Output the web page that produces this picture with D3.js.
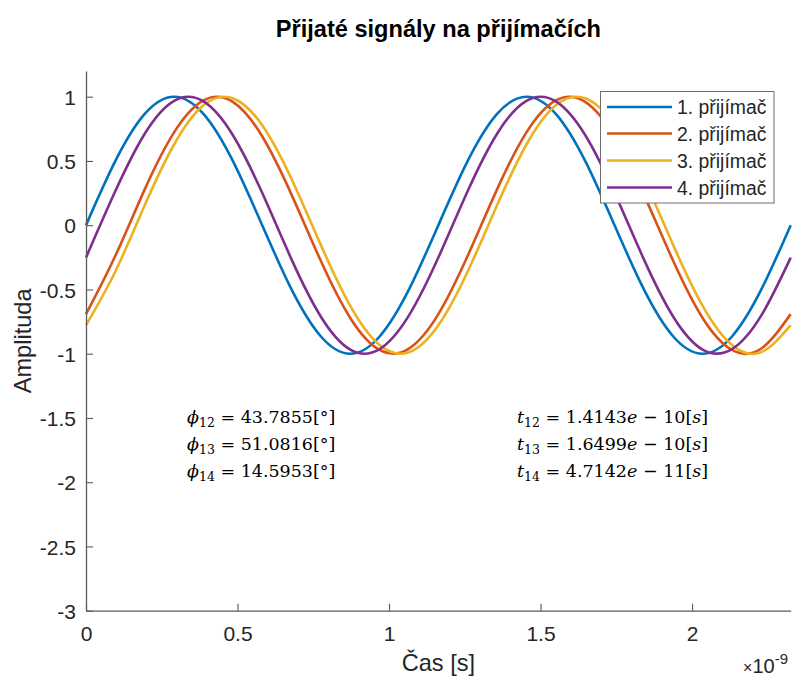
<!DOCTYPE html>
<html>
<head>
<meta charset="utf-8">
<script src="https://cdn.jsdelivr.net/npm/d3@7"></script>
<style>
  html, body { margin: 0; padding: 0; background: #fff; }
  svg { display: block; }
</style>
</head>
<body>
<svg id="chart" width="792" height="678"></svg>
<script>
// ---- Data (time in units of 1e-9 s) ----
const timeNs = [0, 0.0969, 0.1938, 0.2907, 0.3876, 0.4845, 0.5814, 0.6783, 0.7752, 0.8721,
  0.9690, 1.0659, 1.1628, 1.2597, 1.3566, 1.4535, 1.5504, 1.6473, 1.7442, 1.8411,
  1.9380, 2.0349, 2.1318, 2.2287, 2.3256];
const receiver1 = [0, 0.5, 0.866, 1, 0.866, 0.5, 0, -0.5, -0.866, -1, -0.866, -0.5,
  0, 0.5, 0.866, 1, 0.866, 0.5, 0, -0.5, -0.866, -1, -0.866, -0.5, 0];
const receiver2 = [-0.692, -0.238, 0.279, 0.722, 0.971, 0.960, 0.692, 0.238, -0.279, -0.722, -0.971, -0.960,
  -0.692, -0.238, 0.279, 0.722, 0.971, 0.960, 0.692, 0.238, -0.279, -0.722, -0.971, -0.960, -0.692];
const receiver3 = [-0.778, -0.360, 0.155, 0.628, 0.933, 0.988, 0.778, 0.360, -0.155, -0.628, -0.933, -0.988,
  -0.778, -0.360, 0.155, 0.628, 0.933, 0.988, 0.778, 0.360, -0.155, -0.628, -0.933, -0.988, -0.778];
const receiver4 = [-0.252, 0.266, 0.712, 0.968, 0.964, 0.702, 0.252, -0.266, -0.712, -0.968, -0.964, -0.702,
  -0.252, 0.266, 0.712, 0.968, 0.964, 0.702, 0.252, -0.266, -0.712, -0.968, -0.964, -0.702, -0.252];
const seriesNames = ["1. přijímač", "2. přijímač", "3. přijímač", "4. přijímač"];
const seriesColors = ["#0072BD", "#D95319", "#EDB120", "#7E2F8E"];
const xTicks = [0, 0.5, 1, 1.5, 2];
const yTicks = [1, 0.5, 0, -0.5, -1, -1.5, -2, -2.5, -3];
const xDomain = [0, 2.3256];
const yDomain = [-3, 1.2];
const phaseLabels = ["12", "13", "14"];
const phaseValues = ["43.7855", "51.0816", "14.5953"];
const delayMantissa = ["1.4143", "1.6499", "4.7142"];
const delayExponent = ["10", "10", "11"];
const titleText = "Přijaté signály na přijímačích";
const xLabel = "Čas [s]";
const yLabel = "Amplituda";

// ---- Layout ----
const svg = d3.select("#chart");
const pLeft = 86, pRight = 790.7, pTop = 71, pBottom = 610.7;
const x = d3.scaleLinear().domain(xDomain).range([pLeft, pRight]);
const y = d3.scaleLinear().domain(yDomain).range([pBottom, pTop]);
const axisColor = "#5a5a5a";
const textColor = "#262626";
const sans = "Arial, 'Liberation Sans', Helvetica, sans-serif";

// Lines
const allSeries = [receiver1, receiver2, receiver3, receiver4];
const line = d3.line()
  .x(d => x(d[0]))
  .y(d => y(d[1]))
  .curve(d3.curveNatural);
allSeries.forEach((vals, i) => {
  svg.append("path")
    .datum(timeNs.map((t, k) => [t, vals[k]]))
    .attr("fill", "none")
    .attr("stroke", seriesColors[i])
    .attr("stroke-width", 2.6)
    .attr("stroke-linejoin", "round")
    .attr("d", line);
});

// Axes
const xAxis = d3.axisBottom(x).tickValues(xTicks).tickSize(-7).tickPadding(12)
  .tickFormat(d3.format("~g")).tickSizeOuter(0);
const yAxis = d3.axisLeft(y).tickValues(yTicks).tickSize(-7).tickPadding(10)
  .tickFormat(d => d3.format("~g")(d).replace("−", "-")).tickSizeOuter(0);

const gx = svg.append("g").attr("transform", `translate(0,${pBottom})`).call(xAxis);
const gy = svg.append("g").attr("transform", `translate(${pLeft},0)`).call(yAxis);
[gx, gy].forEach(g => {
  g.select(".domain").attr("stroke", axisColor).attr("stroke-width", 1.3);
  g.selectAll(".tick line").attr("stroke", axisColor).attr("stroke-width", 1.1);
  g.selectAll(".tick text").attr("fill", textColor)
    .style("font-family", sans).style("font-size", "21px");
});
gx.selectAll(".tick text").attr("dy", null).attr("y", 30.5);
gy.selectAll(".tick text").attr("dy", "0.36em").attr("x", -10);

// Exponent label
const expT = svg.append("text")
  .attr("x", 788).attr("y", 672.5)
  .attr("text-anchor", "end")
  .attr("fill", textColor)
  .style("font-family", sans).style("font-size", "20px");
expT.append("tspan").style("font-size", "16px").text("×");
expT.append("tspan").text("10");
expT.append("tspan").attr("dy", -9).style("font-size", "15px").text("-9");

// Title
svg.append("text")
  .attr("x", (pLeft + pRight) / 2).attr("y", 37)
  .attr("text-anchor", "middle")
  .attr("fill", "#000")
  .style("font-family", sans).style("font-size", "23.6px").style("font-weight", "bold")
  .text(titleText);

// Axis labels
svg.append("text")
  .attr("x", (pLeft + pRight) / 2).attr("y", 671)
  .attr("text-anchor", "middle")
  .attr("fill", textColor)
  .style("font-family", sans).style("font-size", "23.6px")
  .text(xLabel);
svg.append("text")
  .attr("transform", `translate(31,${(pTop + pBottom) / 2}) rotate(-90)`)
  .attr("text-anchor", "middle")
  .attr("fill", textColor)
  .style("font-family", sans).style("font-size", "23.6px")
  .text(yLabel);

// Annotations (math text)
const serif = "'DejaVu Serif', 'Liberation Serif', serif";
const annBase = [423, 450, 477];
function mathLine(xPos, yPos, sym, sub, rest) {
  const t = svg.append("text")
    .attr("x", xPos).attr("y", yPos)
    .attr("fill", "#000")
    .style("font-family", serif).style("font-size", "17.5px")
    .style("white-space", "pre");
  t.append("tspan").style("font-style", "italic").text(sym);
  t.append("tspan").attr("dy", 4).style("font-size", "12.5px").text(sub);
  t.append("tspan").attr("dy", -4).text(" = ");
  rest.forEach(r => {
    const ts = t.append("tspan").text(r.text);
    if (r.italic) ts.style("font-style", "italic");
  });
  return t;
}
phaseLabels.forEach((lab, i) => {
  mathLine(187, annBase[i], "ϕ", lab, [
    { text: phaseValues[i] }, { text: "[°]" }
  ]);
  mathLine(517, annBase[i], "t", lab, [
    { text: delayMantissa[i] }, { text: "e", italic: true }, { text: " − " + delayExponent[i] + "[" },
    { text: "s", italic: true }, { text: "]" }
  ]);
});

// Legend
const lg = svg.append("g");
lg.append("rect")
  .attr("x", 600.5).attr("y", 91.5).attr("width", 173.5).attr("height", 111.5)
  .attr("fill", "#fff").attr("stroke", "#6e6e6e").attr("stroke-width", 1);
const rowY = [107, 133.5, 160.5, 187.5];
seriesNames.forEach((name, i) => {
  lg.append("line")
    .attr("x1", 607).attr("x2", 672)
    .attr("y1", rowY[i]).attr("y2", rowY[i])
    .attr("stroke", seriesColors[i]).attr("stroke-width", 2.6);
  lg.append("text")
    .attr("x", 677).attr("y", rowY[i] + 7)
    .attr("fill", textColor)
    .style("font-family", sans).style("font-size", "19.4px")
    .text(name);
});
</script>
</body>
</html>
